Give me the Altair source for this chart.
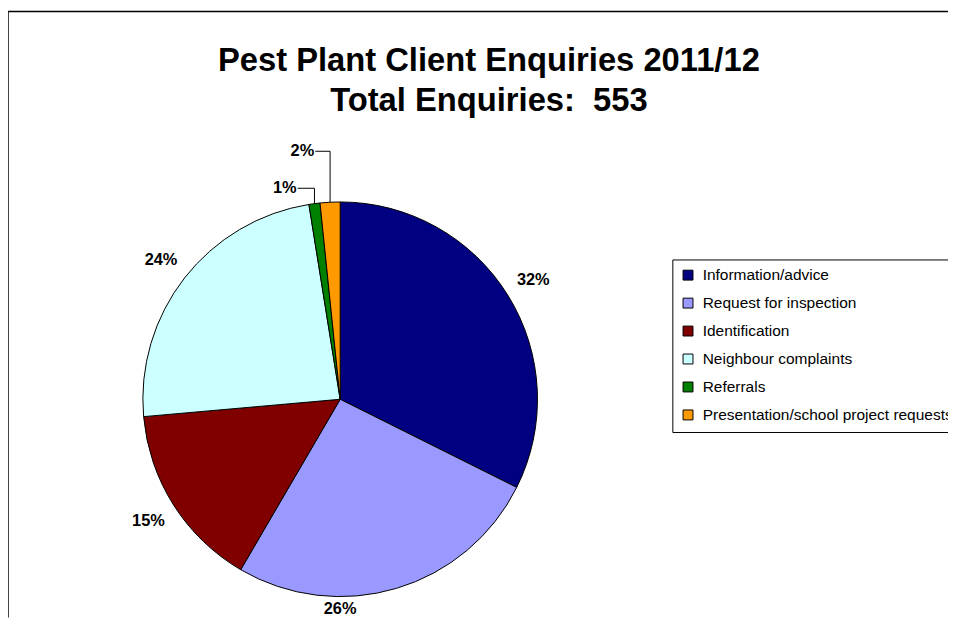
import altair as alt
import pandas as pd

# ---- data ----
categories = [
    "Information/advice",
    "Request for inspection",
    "Identification",
    "Neighbour complaints",
    "Referrals",
    "Presentation/school project requests",
]
enquiries = [179, 144, 84, 132, 5, 9]
colors = ["#000080", "#9999FF", "#800000", "#CCFFFF", "#008000", "#FF9900"]
title_lines = ["Pest Plant Client Enquiries 2011/12", "Total Enquiries:  553"]

total = sum(enquiries)
df = pd.DataFrame({
    "category": categories,
    "value": enquiries,
    "order": list(range(len(categories))),
    "pct": [f"{round(v / total * 100)}%" for v in enquiries],
})

W, H = 948, 612
CX, CY, R = 335, 392, 199
FONT = "Liberation Sans"

color = alt.Color(
    "category:N",
    scale=alt.Scale(domain=categories, range=colors),
    legend=alt.Legend(
        title=None, orient="none", legendX=670, legendY=251,
        direction="vertical", symbolType="square", symbolSize=100,
        symbolStrokeColor="black", symbolStrokeWidth=1, symbolOpacity=1,
        labelFont=FONT, labelFontSize=15.6, labelColor="black", labelLimit=500,
        labelOffset=7, rowPadding=11.2, padding=8,
        strokeColor="black", fillColor="white",
    ),
)

base = alt.Chart(df)

pie = base.mark_arc(stroke="black", strokeWidth=1, outerRadius=R).encode(
    theta=alt.Theta("value:Q", stack=True),
    order=alt.Order("order:Q"),
    color=color,
    x=alt.value(CX),
    y=alt.value(CY),
)

off_expr = (
    "datum.category == 'Request for inspection' ? 0.29 : "
    "datum.category == 'Referrals' ? -0.126 : "
    "datum.category == 'Presentation/school project requests' ? -0.10 : 0"
)
rad_expr = (
    "datum.category == 'Request for inspection' ? 212 : "
    "datum.category == 'Referrals' ? 220 : "
    "datum.category == 'Presentation/school project requests' ? 253 : 229"
)

geo = (
    base.transform_joinaggregate(total="sum(value)")
    .transform_window(cum="sum(value)", sort=[alt.SortField("order")], frame=[None, 0])
    .transform_calculate(mid="(datum.cum - datum.value/2) / datum.total * 2 * PI")
    .transform_calculate(ang="datum.mid + (" + off_expr + ")", rad=rad_expr)
    .transform_calculate(
        lx=f"{CX} + datum.rad * sin(datum.ang)",
        ly=f"{CY} - datum.rad * cos(datum.ang)",
        ex=f"{CX} + {R} * sin(datum.mid)",
        ey=f"{CY} - {R} * cos(datum.mid)",
    )
    .transform_calculate(lxr="datum.lx + 13")
)

labels = geo.mark_text(
    font=FONT, fontSize=16.5, fontWeight="bold", color="black",
    align="center", baseline="middle",
).encode(
    x=alt.X("lx:Q", scale=None),
    y=alt.Y("ly:Q", scale=None),
    text=alt.Text("pct:N"),
)

small = geo.transform_filter("datum.value / datum.total < 0.03")

lead_v = small.mark_rule(color="black", strokeWidth=1).encode(
    x=alt.X("ex:Q", scale=None),
    y=alt.Y("ey:Q", scale=None),
    y2=alt.Y2("ly:Q"),
)
lead_h = small.mark_rule(color="black", strokeWidth=1).encode(
    x=alt.X("lxr:Q", scale=None),
    x2=alt.X2("ex:Q"),
    y=alt.Y("ly:Q", scale=None),
)

# keep the double space visible in SVG text
t1 = title_lines[0]
t2 = title_lines[1].replace("  ", " \u00a0")
one = alt.Chart(alt.Data(values=[{"t1": t1, "t2": t2}]))
title1 = one.mark_text(font=FONT, fontSize=33, fontWeight="bold", color="black",
                       align="center", baseline="alphabetic").encode(
    x=alt.value(485), y=alt.value(61), text="t1:N")
title2 = one.mark_text(font=FONT, fontSize=33, fontWeight="bold", color="black",
                       align="center", baseline="alphabetic").encode(
    x=alt.value(485), y=alt.value(101), text="t2:N")

border_l = one.mark_rule(color="black", strokeWidth=1.5).encode(
    x=alt.value(0), y=alt.value(1), y2=alt.value(H))
border_t = one.mark_rule(color="black", strokeWidth=1.5).encode(
    x=alt.value(0), x2=alt.value(W), y=alt.value(1))

chart = alt.layer(
    border_l, border_t, pie, lead_v, lead_h, labels, title1, title2
).properties(
    width=W, height=H, padding=0, autosize=alt.AutoSizeParams(type="none")
).configure_view(stroke=None).configure_legend(strokeWidth=1)

chart.save("out.html", embed_options={"renderer": "svg", "actions": False})
